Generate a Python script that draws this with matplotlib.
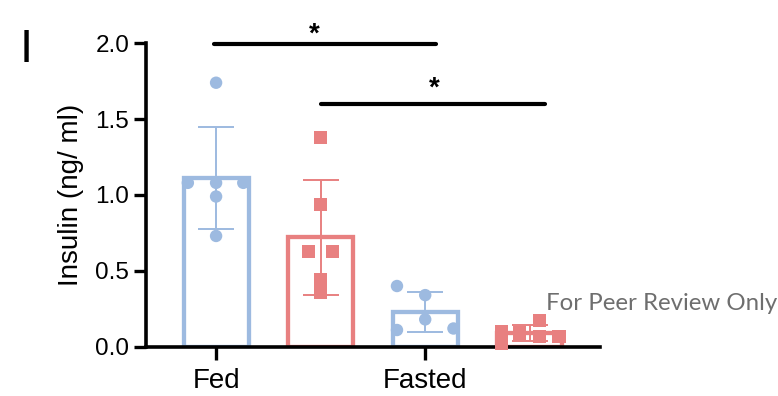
import matplotlib.pyplot as plt
import numpy as np

plt.rcParams["font.family"] = ["Liberation Sans", "DejaVu Sans"]

# group labels / positions (WT-like blue, KO-like red within Fed and Fasted)
groups = ["Fed", "Fasted"]
bar_pos = [0, 1, 2, 3]
bar_colors = ["#9dbae0", "#e88080", "#9dbae0", "#e88080"]
bar_markers = ["o", "s", "o", "s"]

means = [1.11, 0.72, 0.23, 0.09]
sds = [0.335, 0.38, 0.13, 0.05]

fed_blue = [1.74, 1.08, 1.08, 1.08, 0.99, 0.73]
fed_red = [1.38, 0.94, 0.63, 0.63, 0.44, 0.36]
fasted_blue = [0.40, 0.34, 0.18, 0.11, 0.12]
fasted_red = [0.10, 0.02, 0.09, 0.175, 0.065, 0.065]

# horizontal scatter offsets
fed_blue_dx = [0, -0.27, 0, 0.26, 0, 0]
fed_red_dx = [0, 0, -0.12, 0.11, 0, 0]
fasted_blue_dx = [-0.27, 0, 0, -0.27, 0.27]
fasted_red_dx = [-0.27, -0.27, -0.1, 0.09, 0.09, 0.28]

points = [fed_blue, fed_red, fasted_blue, fasted_red]
offsets = [fed_blue_dx, fed_red_dx, fasted_blue_dx, fasted_red_dx]

# significance brackets: (x start, x end, y, star x, star y)
sig_lines = [(-0.02, 2.1, 1.995, 0.94, 2.06), (1.0, 3.15, 1.60, 2.09, 1.70)]

fig = plt.figure(figsize=(7.78, 3.96), dpi=100)
ax = fig.add_axes([0.1877, 0.1245, 0.771 - 0.1877, 0.8907 - 0.1245])

for i, pos in enumerate(bar_pos):
    ax.bar(pos, means[i], width=0.62, facecolor="white", edgecolor=bar_colors[i],
           linewidth=3.1, zorder=2)
    ax.errorbar(pos, means[i], yerr=sds[i], fmt="none", ecolor=bar_colors[i],
                elinewidth=1.4, capsize=13, capthick=1.4, zorder=3)
    xs = pos + np.array(offsets[i])
    ax.scatter(xs, points[i], marker=bar_markers[i], s=80 if bar_markers[i] == "o" else 90,
               color=bar_colors[i], edgecolors="none", zorder=4, clip_on=False)

for x0, x1, y, sx, sy in sig_lines:
    ax.plot([x0, x1], [y, y], color="black", linewidth=3, solid_capstyle="round",
            clip_on=False, zorder=5)
    ax.text(sx, sy, "*", ha="center", va="center", fontsize=20, fontweight="bold",
            clip_on=False)

ax.set_xlim(-0.67, 3.67)
ax.set_ylim(0, 2.0)
ax.set_yticks([0.0, 0.5, 1.0, 1.5, 2.0])
ax.set_yticklabels(["0.0", "0.5", "1.0", "1.5", "2.0"])
ax.set_xticks([0, 2])
ax.set_xticklabels(groups)
ax.set_ylabel("Insulin (ng/ ml)", fontsize=20, labelpad=8)

for side in ["top", "right"]:
    ax.spines[side].set_visible(False)
for side in ["left", "bottom"]:
    ax.spines[side].set_linewidth(2.6)
ax.tick_params(axis="both", width=2.4, length=9, color="black")
ax.tick_params(axis="y", labelsize=17.5, pad=3)
ax.tick_params(axis="x", labelsize=20, pad=6)

fig.text(20 / 778, 1 - 50 / 396, "I", fontsize=34, ha="left", va="center")
fig.text(546 / 778, 1 - 310 / 396, "For Peer Review Only", fontsize=17.3, color="#6e6e6e",
         family=["Lato", "DejaVu Sans"], ha="left", va="baseline")

fig.savefig("out.png", dpi=100)
